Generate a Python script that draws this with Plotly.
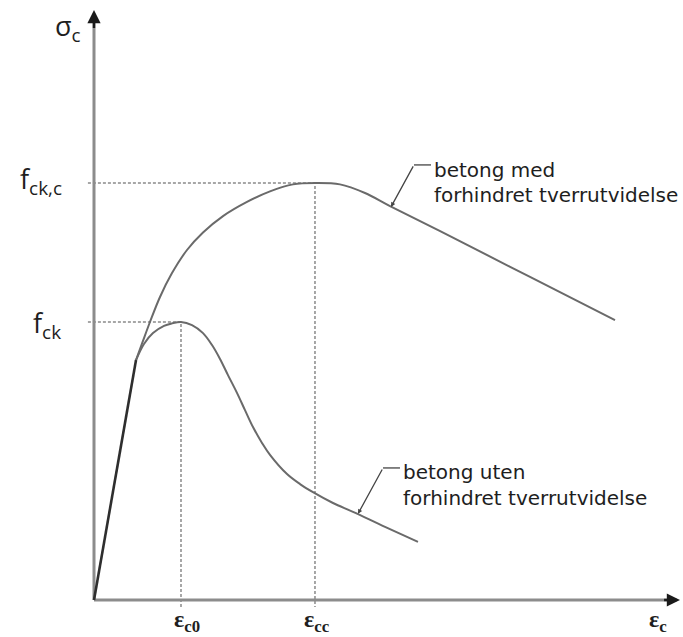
import plotly.graph_objects as go

# --- characteristic values (strain in per mille-like units, stress relative to f_ck) ---
f_ck = 1.0
f_ck_c = 1.5
eps_c0 = 2.0
eps_cc = 5.08

# common linear-elastic branch
eps_lin = [0.0, 0.966]
sig_lin = [0.0, 0.863]

# unconfined concrete ("betong uten forhindret tverrutvidelse")
eps_uten = [0.966, 1.149, 1.356, 1.609, 1.793, 2.000, 2.253, 2.506, 2.713, 2.897,
            3.080, 3.287, 3.471, 3.655, 3.862, 4.046, 4.437, 4.736, 5.034, 5.494,
            5.954, 6.690, 7.448]
sig_uten = [0.863, 0.921, 0.960, 0.986, 0.995, 1.000, 0.989, 0.960, 0.917, 0.867,
            0.809, 0.745, 0.683, 0.622, 0.565, 0.522, 0.453, 0.417, 0.388, 0.349,
            0.317, 0.263, 0.209]

# confined concrete ("betong med forhindret tverrutvidelse")
eps_med = [0.966, 1.126, 1.287, 1.517, 1.793, 2.138, 2.506, 2.966, 3.517, 4.046,
           4.575, 5.080, 5.655, 6.230, 6.805, 8.184, 10.023, 11.977]
sig_med = [0.863, 0.932, 1.000, 1.090, 1.176, 1.259, 1.322, 1.381, 1.432, 1.470,
           1.495, 1.500, 1.495, 1.464, 1.417, 1.309, 1.162, 1.007]

# leader lines: point on curve -> bend -> start of label
lead_med = [(6.828, 1.414), (7.356, 1.565), (7.747, 1.565)]
lead_uten = [(6.069, 0.310), (6.644, 0.475), (7.034, 0.475)]

label_med = ["betong med", "forhindret tverrutvidelse"]
label_uten = ["betong uten", "forhindret tverrutvidelse"]

# axis extents
x_min, x_max = -2.1609, 13.5402
y_min, y_max = -0.13309, 2.15827
x_tip = 13.471
y_tip = 2.1223

AXIS = "#8c8c8c"
CURVE = "#6a6a6a"
GUIDE = "#8a8a8a"
TEXT = "#1e1e1e"

fig = go.Figure()

# dotted guide lines to the characteristic points
fig.add_trace(go.Scatter(x=[-0.14, eps_c0, eps_c0], y=[f_ck, f_ck, -0.025], mode="lines",
                         line=dict(color=GUIDE, width=1.5, dash="3px,2px"), hoverinfo="skip"))
fig.add_trace(go.Scatter(x=[-0.14, eps_cc, eps_cc], y=[f_ck_c, f_ck_c, -0.025], mode="lines",
                         line=dict(color=GUIDE, width=1.5, dash="3px,2px"), hoverinfo="skip"))

# axes
fig.add_trace(go.Scatter(x=[0, x_tip - 0.2], y=[0, 0], mode="lines",
                         line=dict(color=AXIS, width=3), hoverinfo="skip"))
fig.add_trace(go.Scatter(x=[0, 0], y=[0, y_tip - 0.03], mode="lines",
                         line=dict(color=AXIS, width=3), hoverinfo="skip"))

# stress-strain curves
fig.add_trace(go.Scatter(x=eps_med, y=sig_med, mode="lines",
                         line=dict(color=CURVE, width=2, shape="spline", smoothing=1.0),
                         hoverinfo="skip"))
fig.add_trace(go.Scatter(x=eps_uten, y=sig_uten, mode="lines",
                         line=dict(color=CURVE, width=2, shape="spline", smoothing=1.0),
                         hoverinfo="skip"))
fig.add_trace(go.Scatter(x=eps_lin, y=sig_lin, mode="lines",
                         line=dict(color="#2e2e2e", width=2.6), hoverinfo="skip"))

# horizontal parts of the leaders
for lead in (lead_med, lead_uten):
    fig.add_trace(go.Scatter(x=[lead[1][0], lead[2][0]], y=[lead[1][1], lead[2][1]],
                             mode="lines", line=dict(color="#444444", width=1.3),
                             hoverinfo="skip"))

annotations = []

# arrowheads of the axes
annotations.append(dict(x=x_tip, y=0, ax=x_tip - 0.4, ay=0, axref="x", ayref="y",
                        xref="x", yref="y", text="", showarrow=True, arrowhead=2,
                        arrowsize=1.1, arrowwidth=2.4, arrowcolor="#1a1a1a"))
annotations.append(dict(x=0, y=y_tip, ax=0, ay=y_tip - 0.07, axref="x", ayref="y",
                        xref="x", yref="y", text="", showarrow=True, arrowhead=2,
                        arrowsize=1.1, arrowwidth=2.4, arrowcolor="#1a1a1a"))

# diagonal parts of the leaders with small arrowheads at the curve
for lead in (lead_med, lead_uten):
    annotations.append(dict(x=lead[0][0], y=lead[0][1], ax=lead[1][0], ay=lead[1][1],
                            axref="x", ayref="y", xref="x", yref="y", text="",
                            showarrow=True, arrowhead=2, arrowsize=0.7, arrowwidth=1.3,
                            arrowcolor="#444444"))

# curve labels
label_font = dict(family="DejaVu Sans", size=20, color=TEXT)
for lead, lines, dy in ((lead_med, label_med, (1.547, 1.457)),
                        (lead_uten, label_uten, (0.460, 0.367))):
    for txt, yy in zip(lines, dy):
        annotations.append(dict(x=lead[2][0] + 0.03, y=yy, xref="x", yref="y", text=txt,
                                showarrow=False, xanchor="left", yanchor="middle",
                                font=label_font))

# axis symbols
sym_font = dict(family="Open Sans", size=27, color=TEXT)
annotations.append(dict(x=-0.59, y=2.061, xref="x", yref="y", text="σ<sub>c</sub>",
                        showarrow=False, xanchor="center", yanchor="middle", font=sym_font))
annotations.append(dict(x=-0.70, y=f_ck_c, xref="x", yref="y", text="f<sub>ck,c</sub>",
                        showarrow=False, xanchor="right", yanchor="middle", yshift=3,
                        font=sym_font))
annotations.append(dict(x=-0.72, y=f_ck, xref="x", yref="y", text="f<sub>ck</sub>",
                        showarrow=False, xanchor="right", yanchor="middle", yshift=-2,
                        font=sym_font))

eps_font = dict(family="Liberation Serif", size=24, color=TEXT)
for xx, sub, shift in ((eps_c0, "c0", -9), (eps_cc, "cc", -13), (12.71, "c", 0)):
    annotations.append(dict(x=xx, y=-0.077, xref="x", yref="y",
                            text="<b>ε<sub>" + sub + "</sub></b>", showarrow=False,
                            xanchor="left", yanchor="middle", xshift=shift, font=eps_font))

fig.update_layout(
    width=683, height=637,
    margin=dict(l=0, r=0, t=0, b=0),
    paper_bgcolor="white", plot_bgcolor="white",
    showlegend=False,
    xaxis=dict(range=[x_min, x_max], visible=False, fixedrange=True),
    yaxis=dict(range=[y_min, y_max], visible=False, fixedrange=True),
    annotations=annotations,
)

fig.write_html("out.html")
